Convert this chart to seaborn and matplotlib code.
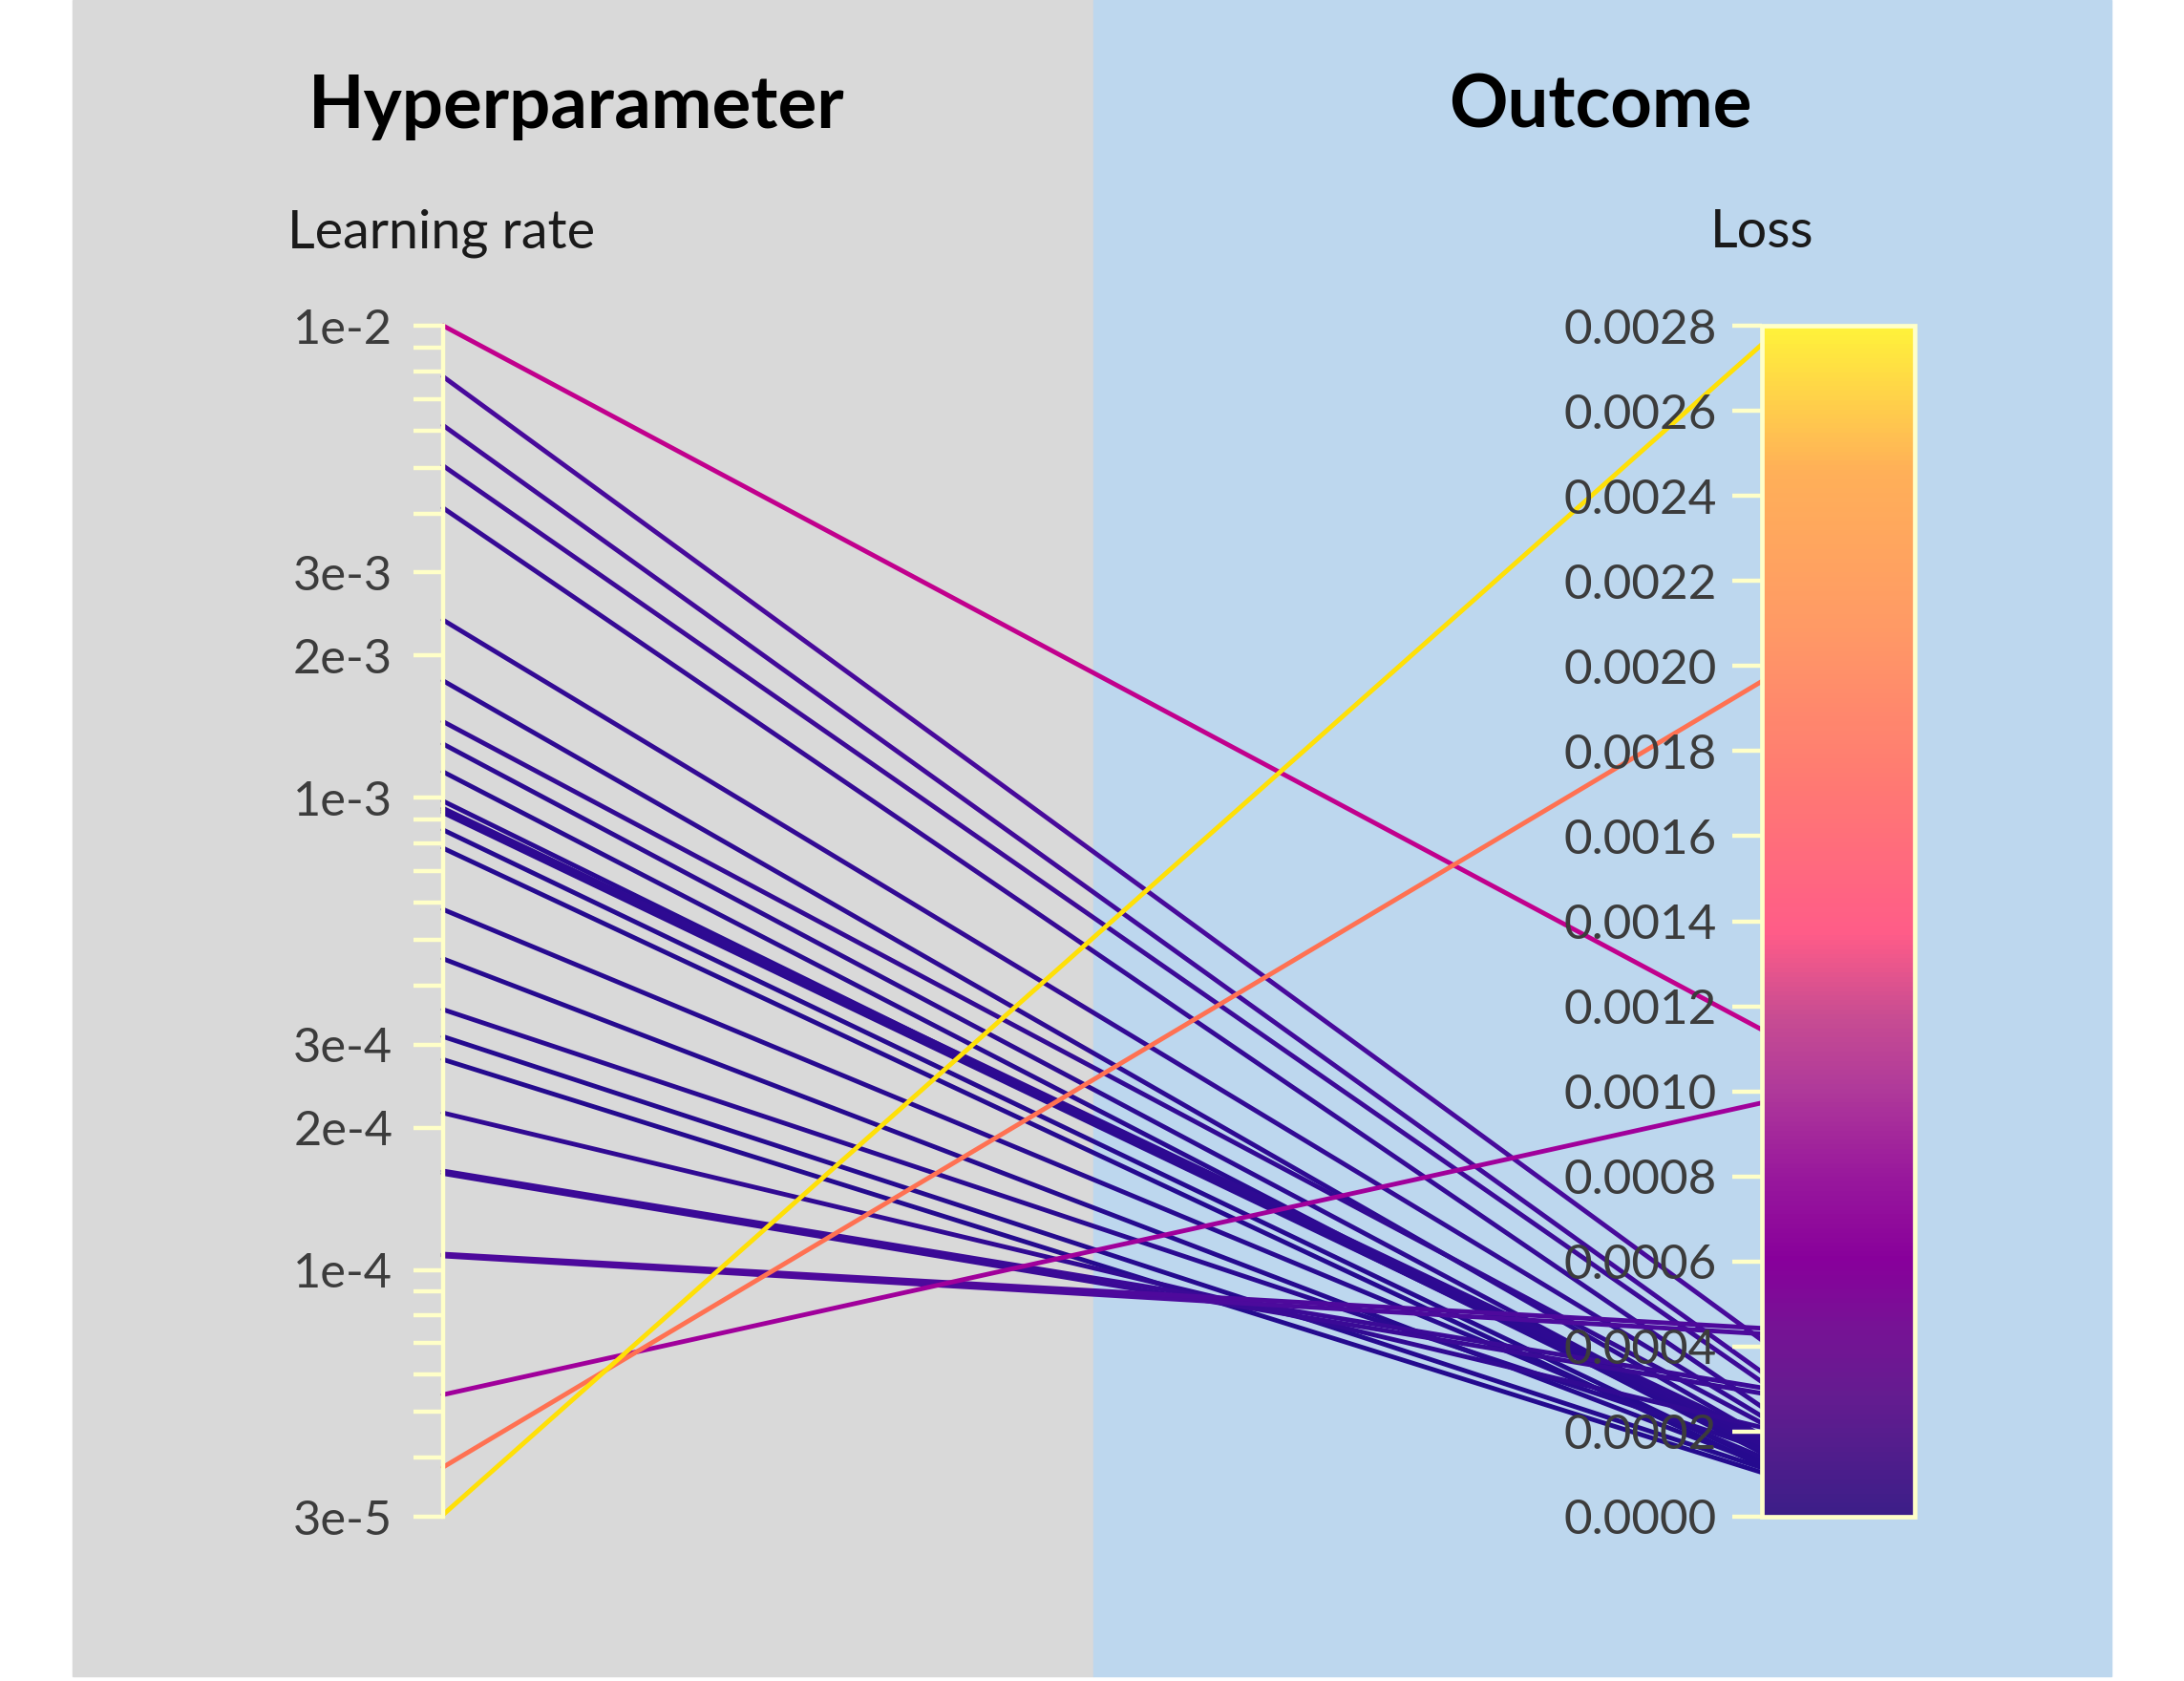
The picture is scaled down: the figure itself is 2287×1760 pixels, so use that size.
import numpy as np
import pandas as pd
import matplotlib
matplotlib.use('Agg')
import matplotlib.pyplot as plt
import seaborn as sns
from matplotlib.colors import LinearSegmentedColormap, Normalize
from matplotlib.patches import Rectangle
from matplotlib.ticker import FixedLocator, NullFormatter

# one run per line: learning rate (left axis, log) -> loss (right axis)
learning_rate = [1.0e-2, 7.8e-3, 6.15e-3, 5.05e-3, 4.11e-3, 2.38e-3, 1.77e-3, 1.45e-3,
                 1.30e-3, 1.135e-3, 9.84e-4, 9.5e-4, 9.4e-4, 9.3e-4, 8.55e-4, 7.82e-4,
                 5.8e-4, 4.56e-4, 3.56e-4, 3.12e-4, 2.79e-4, 2.15e-4, 1.62e-4, 1.60e-4,
                 1.08e-4, 1.07e-4, 5.44e-5, 3.82e-5, 3.03e-5]
loss = [0.001145, 0.000415, 0.00034, 0.000317, 0.000258, 0.000236, 0.00019, 0.00022,
        0.00017, 0.00015, 0.00016, 0.00019, 0.00018, 0.00017, 0.00013, 0.00012,
        0.00014, 0.000125, 0.00016, 0.000115, 0.000104, 0.00021, 0.000303, 0.00029,
        0.000443, 0.00043, 0.000973, 0.001964, 0.002756]

lr_range = (3e-5, 1e-2)
lr_ticks = [1e-2, 3e-3, 2e-3, 1e-3, 3e-4, 2e-4, 1e-4, 3e-5]
lr_tick_labels = ['1e-2', '3e-3', '2e-3', '1e-3', '3e-4', '2e-4', '1e-4', '3e-5']
lr_minor = [9e-3, 8e-3, 7e-3, 6e-3, 5e-3, 4e-3, 9e-4, 8e-4, 7e-4, 6e-4, 5e-4, 4e-4,
            9e-5, 8e-5, 7e-5, 6e-5, 5e-5, 4e-5]
loss_range = (0.0, 0.0028)
loss_ticks = [0.0, 0.0002, 0.0004, 0.0006, 0.0008, 0.0010, 0.0012, 0.0014,
              0.0016, 0.0018, 0.0020, 0.0022, 0.0024, 0.0026, 0.0028]
loss_tick_labels = ['%.4f' % v for v in loss_ticks]

# saturated colours for the lines, softer ones for the bar
line_cmap = LinearSegmentedColormap.from_list('loss_lines', [
    (0.00, '#180a8a'), (0.15, '#4a0a9c'), (0.25, '#80009c'), (0.35, '#a2009b'),
    (0.41, '#c2008c'), (0.50, '#ff4a80'), (0.62, '#ff6a62'), (0.70, '#ff7052'),
    (0.85, '#ffa040'), (1.00, '#ffe800')])
bar_cmap = LinearSegmentedColormap.from_list('loss_bar', [
    (0.00, '#3c1e88'), (0.10, '#641c90'), (0.16, '#771295'), (0.215, '#88009b'),
    (0.29, '#9a1a9c'), (0.36, '#b03a9a'), (0.42, '#c84c92'), (0.49, '#ff5c88'),
    (0.62, '#ff7a72'), (0.75, '#ff9a65'), (0.88, '#ffb058'), (1.00, '#fff23a')])
norm = Normalize(*loss_range)
cream = '#ffffc8'

# long table: each run has a point on both axes, scaled to 0..1
lo, hi = np.log10(lr_range)
rows = []
for i, (lr, l) in enumerate(zip(learning_rate, loss)):
    rows.append({'run': i, 'pos': 0, 'level': (np.log10(lr) - lo) / (hi - lo), 'loss': l})
    rows.append({'run': i, 'pos': 1, 'level': (l - loss_range[0]) / (loss_range[1] - loss_range[0]), 'loss': l})
df = pd.DataFrame(rows)

sns.set_style('white')
plt.rcParams['font.family'] = ['Lato', 'DejaVu Sans']

W, H = 2287, 1760
fig = plt.figure(figsize=(W / 100, H / 100), dpi=100)
fig.patch.set_facecolor('white')

def fx(px):
    return px / W

def fy(py):
    return 1 - py / H

fig.add_artist(Rectangle((fx(76), fy(1755)), fx(1145) - fx(76), 1755 / H,
                         transform=fig.transFigure, color='#d9d9d9', zorder=0))
fig.add_artist(Rectangle((fx(1145), fy(1755)), fx(2211) - fx(1145), 1755 / H,
                         transform=fig.transFigure, color='#bdd7ee', zorder=0))

rect = [fx(464), fy(1588), fx(1845) - fx(464), (1588 - 341) / H]
ax = fig.add_axes(rect, zorder=1)
ax.set_facecolor('none')
sns.lineplot(data=df, x='pos', y='level', hue='loss', units='run', estimator=None,
             palette=line_cmap, hue_norm=norm, legend=False, lw=3.5, ax=ax)
for ln in ax.lines:
    ln.set_clip_on(False)
ax.set_xlim(0, 1)
ax.set_ylim(0, 1)
ax.axis('off')

# left axis: learning rate, log scale
axl = fig.add_axes(rect, zorder=2)
axl.set_facecolor('none')
axl.set_yscale('log')
axl.set_ylim(*lr_range)
axl.set_xlim(0, 1)
axl.set_xticks([])
for s in ['top', 'right', 'bottom']:
    axl.spines[s].set_visible(False)
axl.spines['left'].set_color(cream)
axl.spines['left'].set_linewidth(3.2)
axl.yaxis.set_major_locator(FixedLocator(lr_ticks))
axl.set_yticklabels(lr_tick_labels)
axl.yaxis.set_minor_locator(FixedLocator(lr_minor))
axl.yaxis.set_minor_formatter(NullFormatter())

# right axis: loss colour bar
cax = fig.add_axes([fx(1845), fy(1588), fx(2005) - fx(1845), (1588 - 341) / H], zorder=2)
sm = plt.cm.ScalarMappable(norm=norm, cmap=bar_cmap)
cb = fig.colorbar(sm, cax=cax, ticklocation='left')
cb.set_ticks(loss_ticks, labels=loss_tick_labels)
cb.outline.set_edgecolor(cream)
cb.outline.set_linewidth(3.4)

fig.canvas.draw()
renderer = fig.canvas.get_renderer()

def size_for(text, width_px, **kw):
    t = fig.text(0, 0, text, fontsize=30, **kw)
    w = t.get_window_extent(renderer=renderer).width
    t.remove()
    return 30 * width_px / w

tick_size_l = size_for('1e-2', 104)
tick_size_r = size_for('0.0028', 160)
axl.tick_params(axis='y', which='both', left=True, direction='out', length=22, width=3.2,
                color=cream, labelsize=tick_size_l, labelcolor='#3c3c3c', pad=16)
cax.tick_params(axis='y', which='both', left=True, right=False, direction='out',
                length=22, width=3.2, color=cream, labelsize=tick_size_r,
                labelcolor='#3c3c3c', pad=12)

title_size = size_for('Hyperparameter', 561, fontweight='bold')
fig.text(fx(604), fy(134), 'Hyperparameter', fontsize=title_size, fontweight='bold',
         ha='center', va='baseline', color='black')
fig.text(fx(1676), fy(134), 'Outcome', fontsize=title_size, fontweight='bold',
         ha='center', va='baseline', color='black')

label_size = size_for('Learning rate', 322)
fig.text(fx(462), fy(259), 'Learning rate', fontsize=label_size, ha='center',
         va='baseline', color='#1a1a1a')
fig.text(fx(1845), fy(259), 'Loss', fontsize=label_size, ha='center',
         va='baseline', color='#1a1a1a')

fig.savefig('out.png', dpi=100)
